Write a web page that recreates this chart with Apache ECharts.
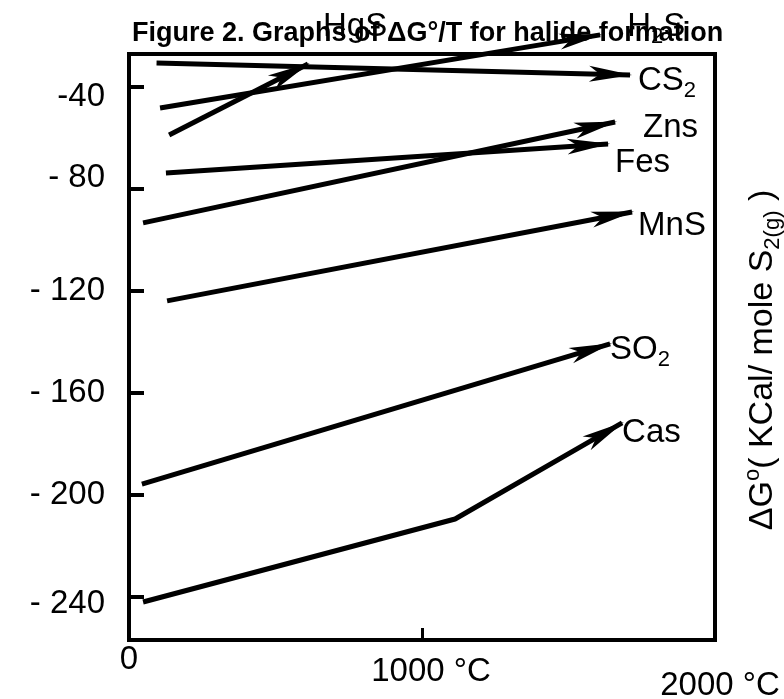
<!DOCTYPE html>
<html>
<head>
<meta charset="utf-8">
<script src="https://cdn.jsdelivr.net/npm/echarts@6/dist/echarts.min.js"></script>
<style>
html,body{margin:0;padding:0;background:#fff;}
#c{width:784px;height:699px;}
</style>
</head>
<body>
<div id="c"></div>
<script>
// ---- data (temperature °C, ΔG° kcal / mole S2) ----
const seriesNames = ['H2S', 'HgS', 'CS2', 'ZnS', 'FeS', 'MnS', 'SO2', 'CaS'];
const seriesLabels = ['H{s|2}S', 'HgS', 'CS{s|2}', 'Zns', 'Fes', 'MnS', 'SO{s|2}', 'Cas'];
const h2sT = [106, 1608];        const h2sG = [-48.2, -19.5];
const hgsT = [137, 611];         const hgsG = [-58.8, -30.9];
const cs2T = [94, 1710];         const cs2G = [-30.5, -35.2];
const znsT = [48, 1659];         const znsG = [-93.3, -53.7];
const fesT = [126, 1635];        const fesG = [-73.7, -62.3];
const mnsT = [130, 1717];        const mnsG = [-123.9, -89.0];
const so2T = [44, 1642];         const so2G = [-195.8, -140.8];
const casT = [48, 1113, 1683];   const casG = [-242.1, -209.5, -171.8];
const xTicks = [0, 1000, 2000];
const xTickLabels = ['0', '1000 °C', '2000 °C'];
const yTicks = [-40, -80, -120, -160, -200, -240];
const yTickLabels = ['-40', '- 80', '- 120', '- 160', '- 200', '- 240'];
const titleText = 'Figure 2. Graphs of ΔG°/T for halide formation';

// ---- styling ----
const F = '"Liberation Sans", Arial, Helvetica, sans-serif';
const allT = [h2sT, hgsT, cs2T, znsT, fesT, mnsT, so2T, casT];
const allG = [h2sG, hgsG, cs2G, znsG, fesG, mnsG, so2G, casG];
const labelOffsets = [[27, -8], [15, -37], [8, 6], [28, 6], [7, 19], [6, 14], [0, 6], [0, 10]];
// small per-label nudges that mimic the hand-drawn scan
const xLabelStyle = ['a', 'b', 'c'];
const yLabelStyle = ['d40', 'u80', 'n', 'n', 'n', 'd240'];

const richLbl = {
  n: { fontSize: 33, fontFamily: F, color: '#000', lineHeight: 42 },
  s: { fontSize: 22, fontFamily: F, color: '#000', lineHeight: 22, verticalAlign: 'bottom' }
};

function wrapLabel(t) {
  return t.split(/(\{s\|[^}]*\})/).filter(p => p.length).map(p => p.startsWith('{s|') ? p : '{n|' + p + '}').join('');
}

const lineSeries = seriesNames.map((name, i) => ({
  type: 'line',
  name: name,
  data: allT[i].map((t, j) => [t, allG[i][j]]),
  symbol: 'none',
  clip: false,
  silent: true,
  lineStyle: { color: '#000', width: 5, cap: 'butt' },
  endLabel: {
    show: true,
    formatter: () => wrapLabel(seriesLabels[i]),
    distance: 0,
    offset: labelOffsets[i],
    rich: richLbl
  }
}));

// arrowheads on the final segment of every series
const arrowData = seriesNames.map((name, i) => {
  const n = allT[i].length;
  return [allT[i][n - 2], allG[i][n - 2], allT[i][n - 1], allG[i][n - 1]];
});
const arrowSeries = {
  type: 'custom',
  name: 'arrows',
  silent: true,
  clip: false,
  data: arrowData,
  encode: { x: [0, 2], y: [1, 3] },
  renderItem: function (params, api) {
    const a = api.coord([api.value(0), api.value(1)]);
    const b = api.coord([api.value(2), api.value(3)]);
    const dx = b[0] - a[0], dy = b[1] - a[1];
    const L = Math.hypot(dx, dy);
    const ux = dx / L, uy = dy / L, nx = -uy, ny = ux;
    const len = 41, half = 8, notch = 30;
    const bx = b[0] - ux * len, by = b[1] - uy * len;
    return {
      type: 'polygon',
      shape: {
        points: [
          [b[0] + ux * 2, b[1] + uy * 2],
          [bx + nx * half, by + ny * half],
          [b[0] - ux * notch, b[1] - uy * notch],
          [bx - nx * half, by - ny * half]
        ]
      },
      style: { fill: '#000', stroke: null }
    };
  }
};

const chart = echarts.init(document.getElementById('c'), null, { renderer: 'canvas' });
chart.setOption({
  animation: false,
  backgroundColor: '#fff',
  title: {
    text: titleText,
    left: 127,
    top: 15,
    textStyle: { fontFamily: F, fontWeight: 'bold', fontSize: 27, color: '#000' }
  },
  grid: {
    left: 129, right: 69, top: 54, bottom: 59,
    containLabel: false,
    outerBoundsMode: 'none',
    show: true, borderColor: '#000', borderWidth: 4, backgroundColor: 'transparent'
  },
  xAxis: {
    type: 'value', min: 0, max: 2000,
    axisLine: { show: true, lineStyle: { color: '#000', width: 4 } },
    axisTick: { show: true, inside: true, length: 12, customValues: [1000], lineStyle: { color: '#000', width: 3 } },
    axisLabel: {
      customValues: xTicks,
      formatter: v => { const k = xTicks.indexOf(v); return '{' + xLabelStyle[k] + '|' + xTickLabels[k] + '}'; },
      color: '#000', margin: 3,
      rich: {
        a: { fontFamily: F, fontSize: 33, lineHeight: 33, color: '#000', padding: [0, 0, 0, 0] },
        b: { fontFamily: F, fontSize: 33, lineHeight: 33, color: '#000', padding: [24, 0, 0, 18] },
        c: { fontFamily: F, fontSize: 33, lineHeight: 33, color: '#000', padding: [52, 0, 0, 10] }
      }
    },
    splitLine: { show: false }
  },
  yAxis: {
    type: 'value', min: -257, max: -27,
    axisLine: { show: true, lineStyle: { color: '#000', width: 4 } },
    axisTick: { show: true, inside: true, length: 15, customValues: yTicks, lineStyle: { color: '#000', width: 4 } },
    axisLabel: {
      customValues: yTicks,
      formatter: v => { const k = yTicks.indexOf(v); return '{' + yLabelStyle[k] + '|' + yTickLabels[k] + '}'; },
      color: '#000', margin: 24,
      rich: {
        n: { fontFamily: F, fontSize: 33, lineHeight: 33, color: '#000' },
        d40: { fontFamily: F, fontSize: 33, lineHeight: 33, color: '#000', padding: [20, 0, 0, 0] },
        u80: { fontFamily: F, fontSize: 33, lineHeight: 33, color: '#000', padding: [0, 0, 22, 0] },
        d240: { fontFamily: F, fontSize: 33, lineHeight: 33, color: '#000', padding: [14, 0, 0, 0] }
      }
    },
    splitLine: { show: false }
  },
  graphic: [{
    type: 'text',
    x: 763, y: 360,
    rotation: Math.PI / 2,
    silent: true,
    style: {
      text: '{n|ΔG}{sup|o}{n|( KCal/ mole S}{sub|2(g)}{n| )}',
      align: 'center',
      verticalAlign: 'middle',
      fill: '#000',
      rich: {
        n: { fontSize: 34, fontFamily: F, fill: '#000', lineHeight: 42 },
        sup: { fontSize: 22, fontFamily: F, fill: '#000', lineHeight: 22, verticalAlign: 'top' },
        sub: { fontSize: 22, fontFamily: F, fill: '#000', lineHeight: 22, verticalAlign: 'bottom' }
      }
    }
  }],
  series: lineSeries.concat([arrowSeries])
});
</script>
</body>
</html>
